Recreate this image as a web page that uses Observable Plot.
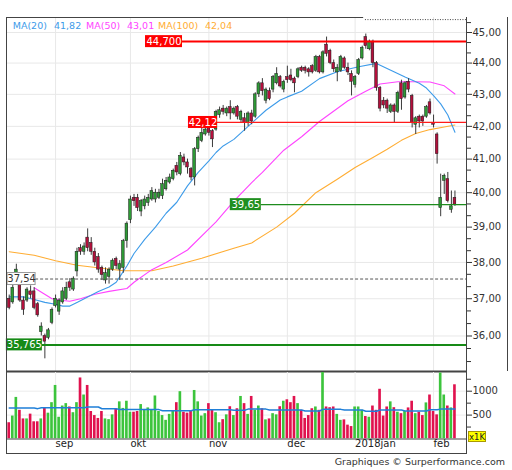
<!DOCTYPE html>
<html><head><meta charset="utf-8">
<script src="https://cdn.jsdelivr.net/npm/d3@7"></script>
<script src="https://cdn.jsdelivr.net/npm/@observablehq/plot@0.6"></script>
<style>
body{margin:0;background:#fff;font-family:"DejaVu Sans",Verdana,sans-serif;}
#wrap{position:relative;width:512px;height:470px;overflow:hidden;background:#fff;}
#wrap svg{position:absolute;left:0;}
.lg{position:absolute;top:19.5px;font-size:9.5px;line-height:12px;white-space:nowrap;}
.fr{position:absolute;box-sizing:border-box;}
</style></head><body><div id="wrap"></div>
<script>
// ---- price data (index 0 = 15 Aug 2017 ... 125 = 9 Feb 2018) ----
const openP  = [37.00,36.90,37.50,37.55,36.95,36.95,37.20,37.20,36.85,36.10,36.00,35.95,36.35,36.80,36.65,36.90,37.00,37.45,37.25,37.75,38.40,38.30,38.70,38.55,38.30,38.15,37.85,37.50,37.60,37.80,38.10,37.80,37.85,38.60,39.20,39.85,39.85,39.45,39.60,39.70,39.80,39.80,39.85,39.90,40.10,40.30,40.40,40.80,40.55,41.05,40.90,40.70,40.45,41.30,41.55,41.75,41.95,41.85,41.90,42.35,42.55,42.40,42.60,42.40,42.60,42.20,42.25,42.10,42.40,42.30,43.00,43.35,42.80,43.10,43.15,43.35,43.55,43.15,43.55,43.60,43.50,43.55,43.85,43.85,43.80,43.90,43.75,44.20,43.70,44.60,44.40,44.00,43.70,43.75,44.15,43.85,43.65,43.30,43.65,44.15,44.85,44.45,44.70,44.00,43.20,42.80,42.80,42.45,42.65,42.45,43.35,42.90,43.40,42.95,42.05,42.30,42.30,42.30,42.75,42.10,41.75,39.55,40.35,40.40,39.50,39.85];
const highP  = [37.10,37.40,37.95,37.60,37.05,37.30,37.35,37.30,36.90,36.35,36.05,36.20,36.75,37.10,37.00,37.30,37.45,37.55,37.60,38.40,38.50,38.55,38.95,38.70,38.40,38.25,37.90,37.85,37.85,38.10,38.15,38.05,38.65,39.15,39.90,39.95,39.95,39.80,39.90,39.95,40.15,40.10,40.10,40.40,40.45,40.55,40.70,40.90,41.20,41.15,41.00,40.75,41.35,41.70,42.00,42.00,42.05,41.90,42.50,42.60,42.65,42.60,42.80,42.60,42.65,42.50,42.40,42.45,42.50,43.05,43.40,43.50,43.20,43.20,43.60,43.85,43.60,43.45,43.90,43.80,43.55,43.85,43.90,43.90,43.85,43.95,44.25,44.25,44.40,44.85,44.45,44.10,43.95,44.25,44.20,44.00,43.75,43.60,44.15,44.55,44.95,44.75,44.75,44.05,43.25,42.90,42.85,42.70,42.70,43.10,43.45,43.40,43.50,43.00,42.30,42.35,42.35,42.65,42.85,42.35,41.80,40.55,40.55,40.60,40.05,40.05];
const lowP   = [36.70,36.85,37.40,36.90,36.55,36.90,37.00,36.70,36.50,36.00,35.40,35.90,36.30,36.75,36.55,36.85,36.95,37.20,37.20,37.60,38.20,38.20,38.30,38.20,37.90,37.70,37.50,37.40,37.40,37.75,37.80,37.50,37.70,38.40,39.10,39.60,39.45,39.30,39.50,39.60,39.75,39.70,39.80,39.80,40.05,40.25,40.35,40.50,40.50,40.80,40.55,40.35,40.20,41.20,41.50,41.70,41.70,41.35,41.85,42.25,42.35,42.30,42.20,42.35,42.20,42.10,41.85,42.00,42.05,42.25,42.90,42.95,42.70,42.80,43.05,43.30,43.20,43.05,43.35,43.40,43.05,43.50,43.70,43.65,43.55,43.65,43.70,43.65,43.65,44.20,43.95,43.70,43.40,43.70,43.80,43.60,42.95,43.20,43.60,44.10,44.45,44.40,43.85,43.10,42.45,42.55,42.40,42.40,42.10,42.40,42.50,42.85,43.05,41.95,41.75,41.95,42.00,42.25,42.35,41.95,40.85,39.30,39.95,39.70,39.40,39.60];
const closeP = [36.75,37.30,37.80,36.95,36.70,37.25,37.10,36.75,36.55,36.25,35.85,36.15,36.70,37.00,36.95,37.20,37.30,37.30,37.55,38.30,38.30,38.45,38.40,38.30,38.00,37.80,37.65,37.70,37.80,38.05,37.90,37.95,38.60,39.10,39.80,39.75,39.55,39.75,39.80,39.85,40.05,40.00,40.00,40.25,40.35,40.45,40.65,40.60,41.10,40.90,40.75,40.45,41.30,41.65,41.80,41.90,41.80,41.60,42.45,42.50,42.45,42.55,42.40,42.55,42.30,42.45,42.10,42.40,42.15,43.00,43.35,43.10,43.15,42.85,43.55,43.65,43.25,43.40,43.45,43.45,43.35,43.80,43.75,43.75,43.70,43.70,44.20,43.70,44.35,44.30,44.00,43.80,43.85,44.20,43.85,43.70,43.40,43.55,44.10,44.50,44.55,44.70,44.00,43.20,42.55,42.65,42.55,42.65,42.45,43.05,42.85,43.35,43.15,42.10,42.25,42.15,42.15,42.60,42.40,42.05,41.15,39.85,40.50,39.75,39.60,39.65];
// volume (thousands)
const volume = [340,480,870,600,420,420,520,360,360,420,650,540,760,1120,455,690,740,670,550,760,1277,920,1120,575,490,430,575,420,405,505,620,777,640,790,560,560,575,720,600,650,600,900,575,490,390,515,575,760,990,560,540,580,1015,777,480,530,740,600,550,340,405,505,675,490,633,890,740,515,890,600,690,633,400,420,530,505,675,790,820,760,890,740,600,430,490,633,670,600,1420,670,655,670,515,390,400,290,260,670,670,600,470,455,690,600,1040,480,670,777,655,560,530,575,650,790,530,560,490,755,920,575,505,1380,920,690,650,1134];

// moving averages (index, value)
const ma20Idx = [0,4,7,10,13,15,17,19,22,25,28,30,31,33,35,38,41,44,47,50,53,56,58,60,63,66,69,72,76,78,82,87,92,98,103,107,111,115,117,119,121,123,125];
const ma20Val = [37.05,37.05,36.98,36.9,36.85,36.8,36.8,36.9,37.05,37.2,37.32,37.45,37.6,37.9,38.25,38.65,39.0,39.4,39.72,40.2,40.6,40.95,41.2,41.4,41.6,41.9,42.2,42.5,42.82,42.92,43.1,43.5,43.72,43.88,43.99,43.77,43.55,43.35,43.2,42.96,42.7,42.35,41.82];
const ma50Idx = [7,12,15,17,20,24,28,33,35,40,44,50,56,58,63,68,71,77,82,87,95,100,104,109,113,118,122,125];
const ma50Val = [37.3,37.0,36.95,36.93,37.0,37.12,37.2,37.28,37.45,37.8,38.0,38.35,38.95,39.15,39.75,40.3,40.6,41.27,41.68,42.15,42.8,43.1,43.33,43.4,43.4,43.39,43.27,43.01];
const ma100Idx = [0,7,13,19,26,32,40,46,54,63,68,75,80,86,92,97,102,106,110,114,118,122,125];
const ma100Val = [38.3,38.2,38.05,37.92,37.84,37.77,37.77,37.9,38.12,38.4,38.55,39.0,39.4,40.0,40.4,40.75,41.05,41.3,41.57,41.78,41.9,41.98,42.04];
const volMAIdx = [0,7,8,9,21,22,25,26,30,31,42,43,51,52,62,63,66,67,72,73,82,83,87,88,93,94,99,100,103,104,110,111,117,118,120,121,125];
const volMAVal = [648,648,635,655,655,670,670,633,633,615,615,590,590,610,610,600,600,625,625,605,605,585,585,620,620,605,605,580,580,605,605,585,585,612,612,625,625];

// horizontal levels
const levelValues = [44.7, 42.12, 39.65, 37.54, 35.765];
const levelLabels = ["44,700", "42,12", "39,65", "37,54", "35,765"];
const levelStart  = [48.6, 58.4, 70.7, 7.4, 9.3];
const levelKinds  = ["red", "redThin", "green", "ref", "greenThick"];
const highMark = 45.43;

// axes
const priceTicks = [36,37,38,39,40,41,42,43,44,45];
const priceMinor = [35.33,35.67,36.33,36.67,37.33,37.67,38.33,38.67,39.33,39.67,40.33,40.67,41.33,41.67,42.33,42.67,43.33,43.67,44.33,44.67,45.33];
const volTicks = [500, 1000];
const volMinor = [250, 750, 1250];
const monthLabels = ["sep","okt","nov","dec","2018jan","feb"];
const monthStart  = [13, 34, 56, 78, 97, 119];

// legend
const legendItems = [
  {name: "MA(20)", value: "41,82"},
  {name: "MA(50)", value: "43,01"},
  {name: "MA(100)", value: "42,04"}
];

// ---- styles / layout ----
const C = {up:"#2e9a36", down:"#b3103c", vUp:"#3cc43c", vDown:"#e0124e", ma20:"#3d9be9", ma50:"#ff44ff", ma100:"#ffad33", vma:"#1f7fd8", frame:"#444", grid:"#e8e8e8"};
const lvlStyle = {
  red:        {line:"#ff0000", w:2,   box:"#ff0000", boxStroke:"none", text:"#fff", bw:37},
  redThin:    {line:"#ff1a1a", w:1.3, box:"#ff0000", boxStroke:"none", text:"#fff", bw:29},
  green:      {line:"#1e8c1e", w:1.3, box:"#1f8f1f", boxStroke:"none", text:"#fff", bw:31},
  ref:        {line:"#555",    w:1,   box:"#fff",    boxStroke:"#999", text:"#333", bw:28, dash:"3,2"},
  greenThick: {line:"#168a16", w:2,   box:"#168a16", boxStroke:"none", text:"#fff", bw:36}
};
const W = 512, mL = 6, mR = 46;
const xDomain = [-0.76, 128.24];
const pxPerIdx = (W - mL - mR) / (xDomain[1] - xDomain[0]);
const mainTop = 17, mainH = 372, mainBot = 1;
const yDomain = [35.072, 45.5];
const kLog = (mainH - mainTop - mainBot) / Math.log(yDomain[1] / yDomain[0]);
const boxF = Math.exp(6 / kLog);
const topSolidEnd = 99.4;

const candles = openP.map((o, i) => ({i, o, h: highP[i], l: lowP[i], c: closeP[i], v: volume[i], up: closeP[i] >= o}));
const pairs = (ix, vals) => ix.map((i, k) => ({i, v: vals[k]}));
const ma20 = pairs(ma20Idx, ma20Val), ma50 = pairs(ma50Idx, ma50Val), ma100 = pairs(ma100Idx, ma100Val), vma = pairs(volMAIdx, volMAVal);
const levels = levelValues.map((v, k) => ({v, label: levelLabels[k], start: levelStart[k], s: lvlStyle[levelKinds[k]]}));
const months = monthLabels.map((label, k) => ({label, i: monthStart[k]}));

const font = {fontFamily: "DejaVu Sans, Verdana, sans-serif", fontSize: "10px", color: "#333", background: "transparent", overflow: "visible"};

const levelMarks = levels.flatMap(d => [
  Plot.ruleY([d], {y: "v", x1: d.start, x2: xDomain[1], stroke: d.s.line, strokeWidth: d.s.w, strokeDasharray: d.s.dash || null}),
  Plot.rect([d], {x1: e => e.start - e.s.bw / pxPerIdx, x2: e => e.start, y1: e => e.v / boxF, y2: e => e.v * boxF, fill: d.s.box, stroke: d.s.boxStroke}),
  Plot.text([d], {x: e => e.start - e.s.bw / 2 / pxPerIdx, y: "v", text: "label", fill: d.s.text, fontSize: 10})
]);

const main = Plot.plot({
  width: W, height: mainH, marginLeft: mL, marginRight: mR, marginTop: mainTop, marginBottom: mainBot,
  x: {domain: xDomain, axis: null},
  y: {type: "log", domain: yDomain},
  style: font,
  marks: [
    Plot.ruleY(priceTicks, {stroke: C.grid}),
    Plot.ruleX(monthStart, {stroke: C.grid}),
    Plot.line(ma100, {x: "i", y: "v", stroke: C.ma100, strokeWidth: 1.1}),
    Plot.line(ma50, {x: "i", y: "v", stroke: C.ma50, strokeWidth: 1.1}),
    Plot.line(ma20, {x: "i", y: "v", stroke: C.ma20, strokeWidth: 1.1}),
    Plot.ruleX(candles, {x: "i", y1: "l", y2: "h", stroke: "#3a3a3a", strokeWidth: 1}),
    Plot.rect(candles, {x1: d => d.i - 0.38, x2: d => d.i + 0.38, y1: "o", y2: "c", fill: d => d.up ? C.up : C.down, stroke: "#1a1a1a", strokeWidth: 0.5}),
    ...levelMarks,
    Plot.ruleX([xDomain[0], xDomain[1]], {stroke: C.frame}),
    Plot.ruleY([yDomain[0]], {stroke: C.frame, strokeWidth: 2}),
    Plot.ruleY([yDomain[1]], {x1: xDomain[0], x2: topSolidEnd, stroke: C.frame}),
    Plot.ruleY([highMark], {x1: topSolidEnd + 0.5, x2: xDomain[1], stroke: "#444", strokeDasharray: "1,1.5"}),
    Plot.axisY(priceTicks, {anchor: "right", tickSize: 5, tickPadding: 1, tickFormat: d => d.toFixed(2).replace(".", ","), label: null, fontSize: 10}),
    Plot.axisY(priceMinor, {anchor: "right", tickSize: 4, tickFormat: () => "", label: null})
  ]
});

const volH = 99, volBot = 31.5;
const vol = Plot.plot({
  width: W, height: volH, marginLeft: mL, marginRight: mR, marginTop: 0, marginBottom: volBot,
  x: {domain: xDomain, axis: null},
  y: {domain: [0, 1412]},
  style: font,
  marks: [
    Plot.ruleY(volTicks, {stroke: "#ececec"}),
    Plot.ruleX(monthStart, {stroke: "#ececec"}),
    Plot.rectY(candles, {x1: d => d.i - 0.37, x2: d => d.i + 0.37, y: "v", fill: d => d.up ? C.vUp : C.vDown, clip: true}),
    Plot.line(vma, {x: "i", y: "v", stroke: C.vma, strokeWidth: 1.5}),
    Plot.frame({stroke: C.frame}),
    Plot.axisY(volTicks, {anchor: "right", tickSize: 5, tickPadding: 1, tickFormat: d => String(d), label: null, fontSize: 10}),
    Plot.axisY(volMinor, {anchor: "right", tickSize: 4, tickFormat: () => "", label: null}),
    Plot.text(months, {x: "i", text: "label", frameAnchor: "bottom", dy: 8, textAnchor: "start", fill: "#222", fontSize: 10})
  ]
});

const wrap = document.getElementById("wrap");
main.style.top = "0px";
vol.style.top = (mainH - 1) + "px";
wrap.appendChild(main);
wrap.appendChild(vol);

// frame pieces outside plot areas
const volPanelBottom = mainH - 1 + volH - volBot;
const addDiv = (css, html) => { const e = document.createElement("div"); e.className = "fr"; e.style.cssText = css; if (html) e.textContent = html; wrap.appendChild(e); return e; };
addDiv(`left:${mL}px;top:${volPanelBottom}px;width:${W - mL - mR + 1}px;height:${453 - volPanelBottom + 1}px;border:1px solid ${C.frame};border-top:none;`);
addDiv(`left:${W - mR}px;top:${mainTop}px;width:${507 - (W - mR) + 1}px;height:${mainH - mainBot - mainTop}px;border-right:1px solid ${C.frame};`);
// x1K badge
addDiv(`left:468px;top:431px;width:18px;height:11px;background:#ffff00;border:1px solid #aa9900;font-size:8.5px;line-height:10px;text-align:center;color:#222;`, "x1K");

// legend
const legColors = [C.ma20, C.ma50, C.ma100];
const legX = [[12.7, 54], [86, 127], [158, 205]];
legendItems.forEach((it, k) => {
  [[legX[k][0], it.name], [legX[k][1], it.value]].forEach(([x, t]) => {
    const e = document.createElement("div");
    e.className = "lg"; e.style.left = x + "px"; e.style.color = legColors[k]; e.textContent = t;
    wrap.appendChild(e);
  });
});

// footer
addDiv(`right:7px;top:456px;font-size:9.5px;color:#333;white-space:nowrap;`, "Graphiques © Surperformance.com");
</script>
</body></html>
